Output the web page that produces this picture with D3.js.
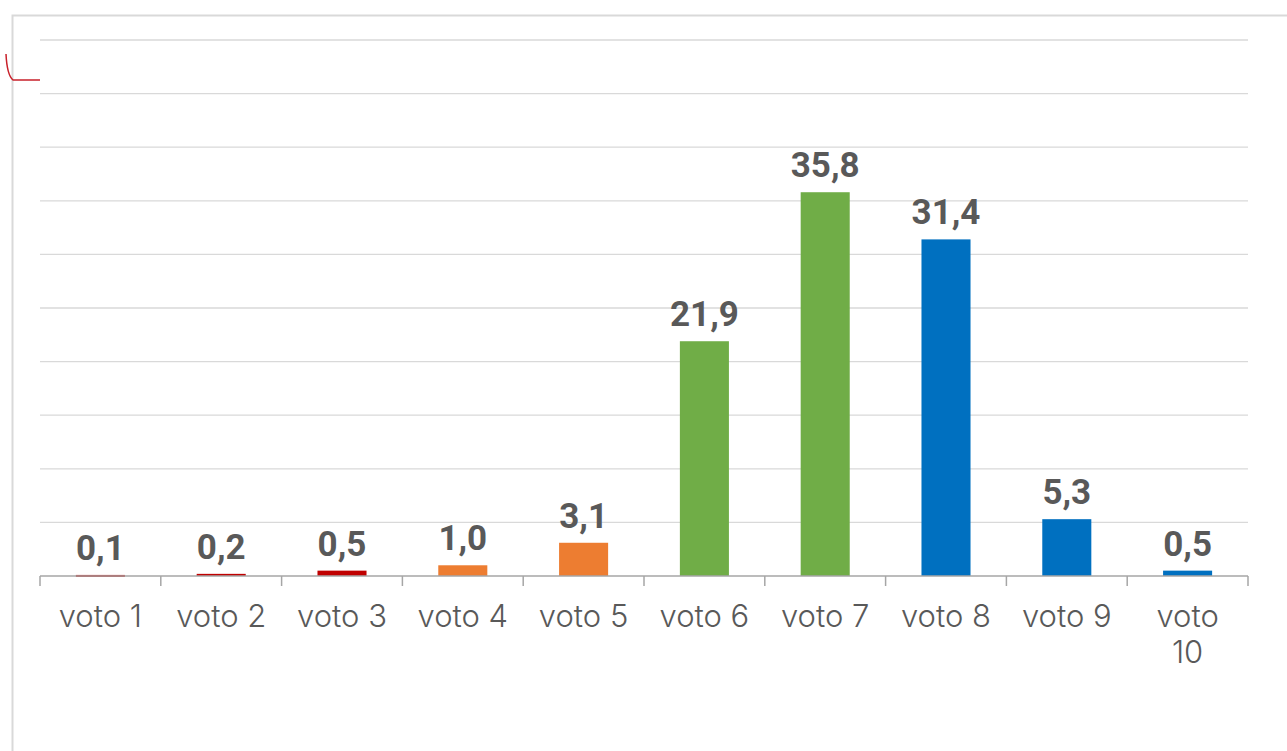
<!DOCTYPE html>
<html>
<head>
<meta charset="utf-8">
<script src="https://cdn.jsdelivr.net/npm/d3@7"></script>
<style>
  body { margin: 0; background: #fff; }
  svg { display: block; }
  .grid line { stroke: #d9d9d9; stroke-width: 1.3; }
  .value { font-family: Roboto, "Liberation Sans", sans-serif; font-weight: 700; font-size: 35px; fill: #595959; }
  .cat { font-family: Inter, "DejaVu Sans", sans-serif; font-size: 31px; fill: #595959; font-weight: 300; }
</style>
</head>
<body>
<svg id="chart" width="1287" height="751"></svg>
<script>
const categories = ["voto 1", "voto 2", "voto 3", "voto 4", "voto 5", "voto 6", "voto 7", "voto 8", "voto 9", "voto 10"]
const values = [0.1, 0.2, 0.5, 1.0, 3.1, 21.9, 35.8, 31.4, 5.3, 0.5]
const barColors = ["#c00000", "#c00000", "#c00000", "#ed7d31", "#ed7d31", "#70ad47", "#70ad47", "#0070c0", "#0070c0", "#0070c0"]
const yTicks = [0, 5, 10, 15, 20, 25, 30, 35, 40, 45, 50]

const data = categories.map((c, i) => ({cat: c, val: values[i], color: barColors[i]}))

const Fig = d3.select("#chart")
const plotLeft = 40, plotRight = 1248, plotTop = 40, base = 576

const xScale = d3.scaleBand()
    .domain(categories)
    .range([plotLeft, plotRight])
    .paddingInner(0.594)
    .paddingOuter(0.297)

const yScale = d3.scaleLinear()
    .domain([0, 50])
    .range([base, plotTop])

// frame of the chart area
Fig.append("path")
    .attr("d", `M12.5,751 V15.5 H1287`)
    .attr("fill", "none")
    .attr("stroke", "#d9d9d9")
    .attr("stroke-width", 2)

// small red mark at top-left
Fig.append("path")
    .attr("d", "M6,54 Q7,75 13,80 H40")
    .attr("fill", "none")
    .attr("stroke", "#c8202a")
    .attr("stroke-width", 1.5)

// gridlines
Fig.append("g").attr("class", "grid")
    .selectAll("line")
    .data(yTicks.filter(d => d > 0))
    .join("line")
    .attr("x1", plotLeft).attr("x2", plotRight)
    .attr("y1", d => yScale(d)).attr("y2", d => yScale(d))

// bars
Fig.selectAll(".bar")
    .data(data)
    .join("rect")
    .attr("class", "bar")
    .attr("x", d => xScale(d.cat))
    .attr("y", d => yScale(d.val))
    .attr("width", xScale.bandwidth())
    .attr("height", d => Math.max(base - yScale(d.val), 2))
    .attr("fill", d => d.color)

// x axis with tick marks at category boundaries
const step = xScale.step()
const axis = Fig.append("g")
axis.append("line")
    .attr("x1", plotLeft).attr("x2", plotRight)
    .attr("y1", base).attr("y2", base)
    .attr("stroke", "#a6a6a6").attr("stroke-width", 1.5)
axis.selectAll(".tick")
    .data(d3.range(categories.length + 1))
    .join("line")
    .attr("x1", i => plotLeft + i * step).attr("x2", i => plotLeft + i * step)
    .attr("y1", base).attr("y2", base + 10)
    .attr("stroke", "#a6a6a6").attr("stroke-width", 1.5)

// category labels (wrap when too wide)
const cats = Fig.selectAll(".cat")
    .data(data)
    .join("text")
    .attr("class", "cat")
    .attr("text-anchor", "middle")
    .attr("x", d => xScale(d.cat) + xScale.bandwidth() / 2)
    .attr("y", base + 51)
    .text(d => d.cat)

cats.each(function(d) {
    const t = d3.select(this)
    if (this.getComputedTextLength() > 95) {
        const words = d.cat.split(" ")
        t.text(null)
        words.forEach((w, i) => {
            t.append("tspan")
                .attr("x", xScale(d.cat) + xScale.bandwidth() / 2)
                .attr("dy", i === 0 ? 0 : 36)
                .text(w)
        })
    }
})

// value labels
Fig.selectAll(".value")
    .data(data)
    .join("text")
    .attr("class", "value")
    .attr("text-anchor", "middle")
    .attr("x", d => xScale(d.cat) + xScale.bandwidth() / 2)
    .attr("y", d => yScale(d.val) - 15)
    .text(d => d.val.toFixed(1).replace(".", ","))
</script>
</body>
</html>
